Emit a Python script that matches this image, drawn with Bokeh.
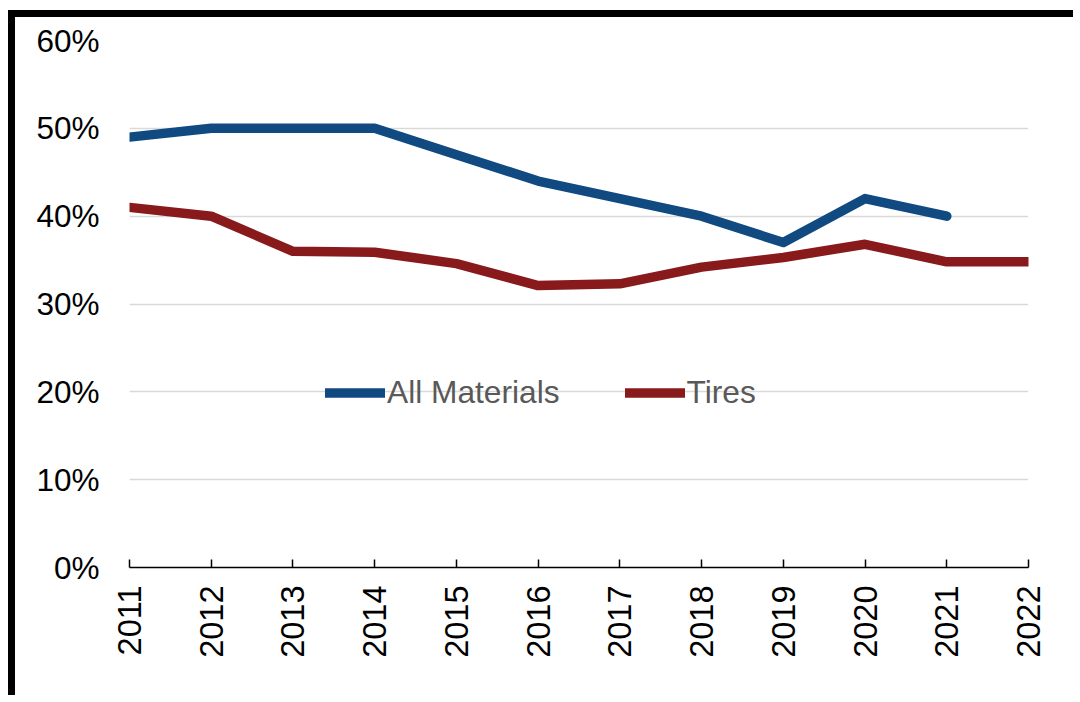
import math
from bokeh.plotting import figure
from bokeh.models import (Range1d, FixedTicker, PrintfTickFormatter, Legend,
                          LegendItem, ColumnDataSource)
from bokeh.embed import file_html
from bokeh.resources import INLINE

# Share of material recovered, by year (percent)
years = [2011, 2012, 2013, 2014, 2015, 2016, 2017, 2018, 2019, 2020, 2021, 2022]
all_materials_years = [2011, 2012, 2013, 2014, 2015, 2016, 2017, 2018, 2019, 2020, 2021]
all_materials = [49, 50, 50, 50, 47, 44, 42, 40, 37, 42, 40]
tires = [41, 40, 36, 35.9, 34.6, 32.1, 32.3, 34.2, 35.3, 36.8, 34.8, 34.8]
y_ticks = [0, 10, 20, 30, 40, 50, 60]

BLUE = "#104A80"
RED = "#891A1C"
FONT = "Liberation Sans"

p = figure(width=1065, height=685, output_backend="svg", toolbar_location=None,
           x_range=Range1d(2011, 2022), y_range=Range1d(0, 60),
           min_border_left=114, min_border_right=52, min_border_top=23,
           min_border_bottom=135)
p.styles = {"margin-left": "8px", "margin-top": "10px",
            "border-left": "7px solid black", "border-top": "7px solid black"}

p.outline_line_color = None
p.background_fill_color = "white"
p.border_fill_color = "white"

# horizontal gridlines only
p.xgrid.grid_line_color = None
p.ygrid.grid_line_color = "#D9D9D9"
p.ygrid.grid_line_width = 1.5
p.ygrid.ticker = FixedTicker(ticks=y_ticks)

# y axis: labels only
p.yaxis.ticker = FixedTicker(ticks=y_ticks)
p.yaxis.formatter = PrintfTickFormatter(format="%d%%")
p.yaxis.axis_line_color = None
p.yaxis.major_tick_line_color = None
p.yaxis.minor_tick_line_color = None
p.yaxis.major_label_standoff = 24
p.yaxis.major_label_text_font = FONT
p.yaxis.major_label_text_font_size = "31.5px"
p.yaxis.major_label_text_color = "black"

# x axis: baseline with inward ticks, vertical year labels
p.xaxis.ticker = FixedTicker(ticks=years)
p.xaxis.axis_line_color = "black"
p.xaxis.axis_line_width = 1.5
p.xaxis.major_tick_line_color = "black"
p.xaxis.major_tick_line_width = 1.5
p.xaxis.major_tick_in = 8
p.xaxis.major_tick_out = 0
p.xaxis.minor_tick_line_color = None
p.xaxis.major_label_orientation = math.pi / 2
p.xaxis.major_label_standoff = 18
p.xaxis.major_label_text_font = FONT
p.xaxis.major_label_text_font_size = "32.5px"
p.xaxis.major_label_text_color = "black"

src_all = ColumnDataSource(dict(x=all_materials_years, y=all_materials))
src_tires = ColumnDataSource(dict(x=years, y=tires))

r_all = p.line("x", "y", source=src_all, line_color=BLUE, line_width=9.5,
               line_cap="round", line_join="round")
r_tires = p.line("x", "y", source=src_tires, line_color=RED, line_width=9.5,
                 line_cap="round", line_join="round")

legend = Legend(items=[LegendItem(label="All Materials", renderers=[r_all]),
                       LegendItem(label="Tires", renderers=[r_tires])],
                orientation="horizontal", location=(196, 156),
                glyph_width=60, glyph_height=31, label_height=31,
                label_standoff=2, spacing=65, padding=0, margin=0,
                border_line_color=None, background_fill_alpha=0,
                label_text_font=FONT, label_text_font_size="31.7px",
                label_text_color="#595959")
p.add_layout(legend, "center")

open("out.html", "w").write(file_html(p, INLINE))
